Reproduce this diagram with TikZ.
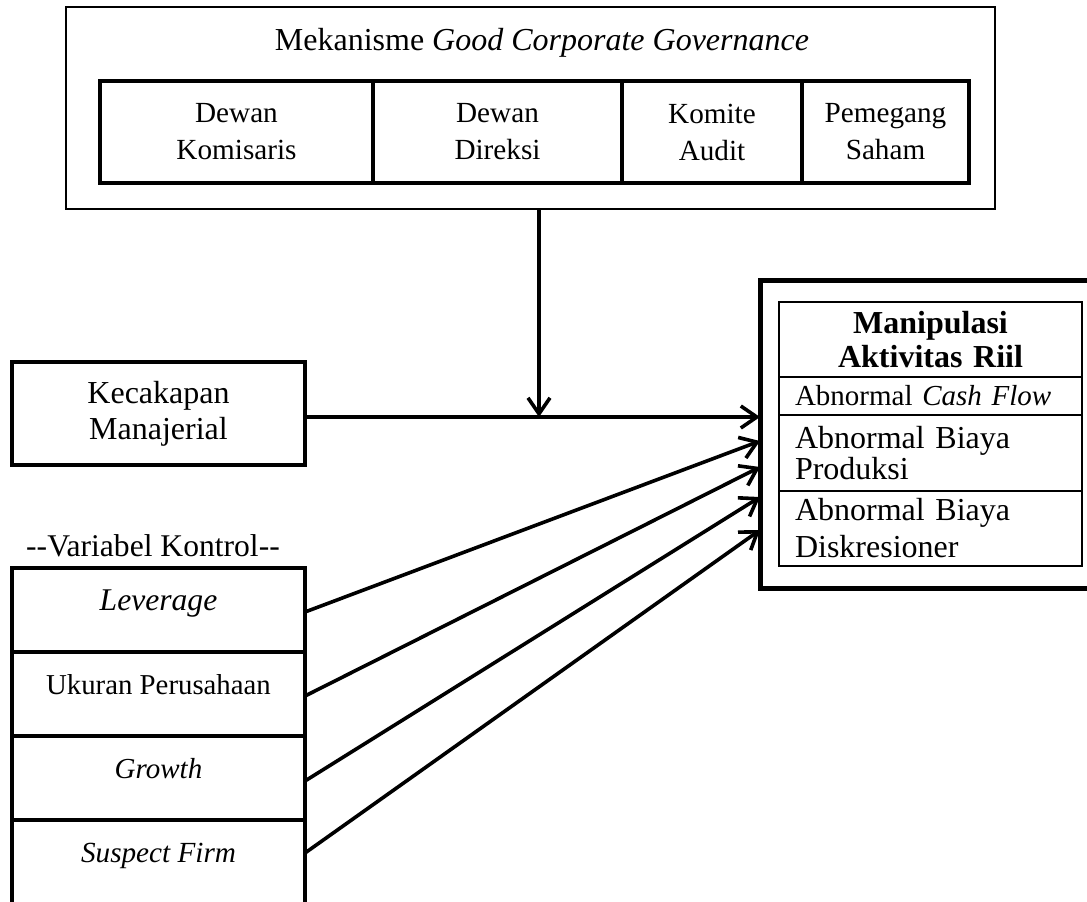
\documentclass[tikz,border=0pt]{standalone}
\usepackage{fontspec}
\setmainfont{Liberation Serif}
\usepackage{tikz}
\usetikzlibrary{arrows.meta, positioning}

\newcommand{\fsz}[2]{\fontsize{#1}{#2}\selectfont}

\begin{document}
\begin{tikzpicture}[
    x=0.5pt, y=-0.5pt,
    >={Straight Barb[length=8pt,width=11pt]},
    outerbox/.style={
      rectangle,
      draw,
      line width=1.2pt,
      inner sep=0pt,
      outer sep=0pt
    },
    cell/.style={
      rectangle,
      draw,
      line width=1.8pt,
      align=center,
      minimum height=51pt,
      inner sep=0pt,
      outer sep=0pt,
      font=\fsz{14.6}{18.5}
    },
    block/.style={
      rectangle,
      draw,
      line width=2pt,
      align=center,
      inner sep=0pt,
      outer sep=0pt
    },
    ctrl/.style={
      block,
      minimum width=146.5pt,
      minimum height=42pt,
      text height=12pt,
      text depth=12pt
    },
    row/.style={
      rectangle,
      draw,
      line width=1.4pt,
      text width=135.5pt,
      inner xsep=8pt,
      inner ysep=0pt,
      outer sep=0pt,
      minimum width=151.5pt
    }
  ]
    \useasboundingbox (0,0) rectangle (1087,901);
    \clip (0,0) rectangle (1087,901);

    \node[outerbox, minimum width=464.5pt, minimum height=101pt] (gcg) at (530.5,108) {};
    \node[anchor=base, font=\fsz{16}{18}] (judul) at (542,50) {Mekanisme \textit{Good Corporate Governance}};
    \node[cell, minimum width=136.5pt] (komisaris) at (236.5,132) {Dewan\\Komisaris};
    \node[cell, minimum width=124.5pt, right=0pt of komisaris] (direksi) {Dewan\\Direksi};
    \node[cell, minimum width=90pt, right=0pt of direksi]      (audit)   {Komite\\Audit};
    \node[cell, minimum width=83.5pt, right=0pt of audit]      (saham)   {Pemegang\\Saham};

    \node[block, minimum width=146.5pt, minimum height=51.5pt, font=\fsz{16}{18}] (kecakapan) at (158.5,413.5) {Kecakapan\\Manajerial};

    \node[ctrl, font=\itshape\fsz{15.8}{18}] (leverage) at (158.5,610) {Leverage};
    \node[ctrl, font=\fsz{14.4}{17}, below=0pt of leverage]        (ukuran)  {Ukuran Perusahaan};
    \node[ctrl, font=\itshape\fsz{14.5}{17}, below=0pt of ukuran]  (growth)  {Growth};
    \node[ctrl, font=\itshape\fsz{14.6}{17}, below=0pt of growth]  (suspect) {Suspect Firm};
    \node[above=5.5pt of leverage, xshift=-2.75pt, inner sep=0pt, font=\fsz{15.8}{18}] (kontrol) {-{}-Variabel Kontrol-{}-};

    \node[block, line width=2.5pt, minimum width=172.5pt, minimum height=154pt] (mar) at (932.5,434) {};
    \node[row, align=center, minimum height=37.5pt, font=\bfseries\fsz{16}{17}] (manip) at (930.5,339.5) {Manipulasi\\Aktivitas Riil};
    \node[row, align=left, minimum height=19pt, font=\fsz{14.5}{17}, below=0pt of manip] (cashflow) {Abnormal \textit{Cash Flow}};
    \node[row, align=left, minimum height=38pt, font=\fsz{16}{13.5}, below=0pt of cashflow] (produksi) {Abnormal Biaya\\Produksi};
    \node[row, align=left, minimum height=37.5pt, font=\fsz{16}{18.5}, below=0pt of produksi] (diskresi) {Abnormal Biaya\\Diskresioner};

    \coordinate (temu) at (539,417);
    \begin{scope}[->, line width=1.8pt]
      \draw (gcg.south -| temu) -- (temu);
      \draw (kecakapan.east |- temu) -- (temu -| mar.west);
      \draw ([yshift=-1pt]leverage.east)  -- ([yshift=-3.5pt]mar.west);
      \draw ([yshift=-1pt]ukuran.east)    -- ([yshift=-16.5pt]mar.west);
      \draw ([yshift=-1.5pt]growth.east)  -- ([yshift=-31.5pt]mar.west);
      \draw ([yshift=4.5pt]suspect.east)  -- ([yshift=-48pt]mar.west);
    \end{scope}
  \end{tikzpicture}
\end{document}
